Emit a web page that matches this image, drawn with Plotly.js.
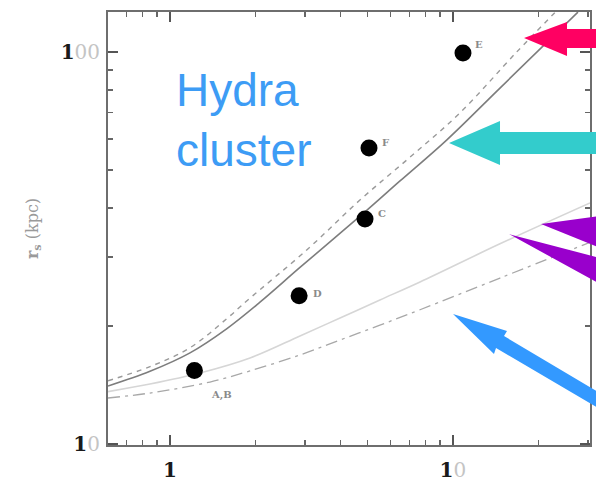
<!DOCTYPE html>
<html>
<head>
<meta charset="utf-8">
<script src="https://cdn.plot.ly/plotly-3.0.1.min.js"></script>
<style>
  html, body { margin: 0; padding: 0; background: #fff; }
  #chart { width: 596px; height: 483px; }
</style>
</head>
<body>
<div id="chart"></div>
<script>
// Cluster members: mass-like abscissa vs scale radius r_s (kpc)
const pointNames = ['A,B', 'D', 'C', 'F', 'E'];
const pointX = [1.22, 2.86, 4.89, 5.05, 10.85];
const pointY = [15.4, 23.9, 37.5, 56.9, 99.4];

// Model relations
const dashedX = [0.604, 0.85, 1.177, 1.59, 1.871, 3.05, 4.69, 7.05, 10.58, 16.8, 22.9];
const dashedY = [14.5, 15.75, 17.6, 20.9, 23.2, 31.3, 41.9, 53.9, 69.9, 100, 126];

const solidX = [0.604, 0.85, 1.177, 1.59, 2.08, 2.88, 4.89, 6.50, 9.52, 14.66, 27.65];
const solidY = [14.06, 15.33, 17.08, 19.7, 23.0, 28.2, 39.1, 46.88, 59.7, 80.9, 126.4];

const lightX = [0.604, 0.85, 1.276, 1.918, 2.88, 3.99, 5.52, 7.65, 14.66, 30.5];
const lightY = [13.6, 14.22, 15.17, 16.57, 18.86, 20.96, 23.3, 25.9, 32.4, 41.2];

const dashDotX = [0.604, 0.85, 1.385, 1.918, 2.88, 3.99, 5.52, 7.65, 14.66, 30.5];
const dashDotY = [13.1, 13.49, 14.39, 15.36, 16.87, 18.42, 20.1, 22.0, 26.5, 32.7];

// Tick labels
const xTickVals = [1, 10];
const xTickText = ['1', '10'];
const yTickVals = [10, 100];
const yTickText = ['10', '100'];

// Label style: first digit dark and bold, the rest pale
function styledTick(t) {
  let s = '<span style="color:#1a1a1a"><b>' + t.charAt(0) + '</b></span>';
  if (t.length > 1) s += '<span style="color:#c4c4c4">' + t.slice(1) + '</span>';
  return s;
}

const W = 596, H = 483;
const M = { l: 108, r: 6, t: 12, b: 38 };
const PW = W - M.l - M.r, PH = H - M.t - M.b;
function px(x) { return ((x - M.l) / PW).toFixed(4); }
function py(y) { return ((H - M.b - y) / PH).toFixed(4); }
function polygon(pts) {
  return 'M' + pts.map(p => px(p[0]) + ',' + py(p[1])).join(' L') + ' Z';
}
function arrowShape(pts, color) {
  return { type: 'path', xref: 'paper', yref: 'paper', path: polygon(pts),
           fillcolor: color, line: { width: 0 }, layer: 'above' };
}

const curve = { shape: 'spline', smoothing: 1.0 };
const traces = [
  { x: dashedX, y: dashedY, mode: 'lines', line: Object.assign({ color: '#9a9a9a', width: 1.4, dash: '5px,5px' }, curve), hoverinfo: 'skip' },
  { x: solidX, y: solidY, mode: 'lines', line: Object.assign({ color: '#7d7d7d', width: 1.6 }, curve), hoverinfo: 'skip' },
  { x: lightX, y: lightY, mode: 'lines', line: Object.assign({ color: '#d6d6d6', width: 1.6 }, curve), hoverinfo: 'skip' },
  { x: dashDotX, y: dashDotY, mode: 'lines', line: Object.assign({ color: '#a8a8a8', width: 1.3, dash: '12px,5px,3px,5px' }, curve), hoverinfo: 'skip' },
  { x: pointX, y: pointY, mode: 'markers', marker: { color: '#000', size: 17 }, hoverinfo: 'skip' }
];

const labelShift = { 'A,B': [27, -25], 'D': [18, 2], 'C': [17, 5], 'F': [17, 5], 'E': [16, 9] };
const annotations = pointNames.map((n, i) => ({
  x: Math.log10(pointX[i]), y: Math.log10(pointY[i]), xref: 'x', yref: 'y',
  text: '<b>' + n + '</b>', showarrow: false,
  xshift: labelShift[n][0], yshift: labelShift[n][1],
  font: { family: 'DejaVu Serif', size: 10, color: '#8a8a8a' }
}));
annotations.push({
  xref: 'paper', yref: 'paper', x: px(174), y: py(62), xanchor: 'left', yanchor: 'top',
  align: 'left', showarrow: false, text: 'Hydra<br>cluster',
  font: { family: 'Liberation Sans, Arial, sans-serif', size: 46, color: '#3d9cf5' }
});

const shapes = [
  arrowShape([[524, 38], [567, 22], [567, 29], [600, 29], [600, 48], [567, 48], [567, 56]], '#ff0062'),
  arrowShape([[449, 143], [500, 121], [500, 132], [600, 132], [600, 154], [500, 154], [500, 165]], '#33cccc'),
  arrowShape([[541, 224], [600, 216], [600, 248]], '#9900cc'),
  arrowShape([[509, 234], [512, 235], [600, 258], [600, 284]], '#9900cc'),
  arrowShape([[453, 314], [507, 331], [504, 336], [600, 393], [600, 409], [496, 348], [494, 354]], '#3399ff')
];

const axisCommon = {
  type: 'log', showgrid: false, zeroline: false,
  showline: true, linecolor: '#6e6e6e', linewidth: 2, mirror: 'ticks',
  ticks: 'inside', ticklen: 10, tickwidth: 1.5, tickcolor: '#555',
  tickmode: 'array',
  tickfont: { family: 'DejaVu Serif', size: 20, color: '#c4c4c4' }
};

const layout = {
  width: W, height: H, margin: M,
  paper_bgcolor: '#fff', plot_bgcolor: '#fff', showlegend: false,
  xaxis: Object.assign({}, axisCommon, {
    range: [Math.log10(0.604), Math.log10(30.5)],
    tickvals: xTickVals, ticktext: xTickText.map(styledTick),
    minor: { ticks: 'inside', ticklen: 5, tickwidth: 1.2, tickcolor: '#666', tickmode: 'array',
             tickvals: [0.7, 0.8, 0.9, 2, 3, 4, 5, 6, 7, 8, 9, 20, 30] },
    ticklabelstandoff: 6
  }),
  yaxis: Object.assign({}, axisCommon, {
    range: [0.9974, 2.102],
    tickvals: yTickVals, ticktext: yTickText.map(styledTick),
    minor: { ticks: 'inside', ticklen: 5, tickwidth: 1.2, tickcolor: '#666', tickmode: 'array',
             tickvals: [20, 30, 40, 50, 60, 70, 80, 90] },
    ticklabelstandoff: 2,
    title: { text: '<b>r<sub>s</sub></b> (kpc)', standoff: 18,
             font: { family: 'DejaVu Serif', size: 16, color: '#9a9a9a' } }
  }),
  annotations: annotations,
  shapes: shapes
};

Plotly.newPlot('chart', traces, layout, { staticPlot: true, displayModeBar: false });
</script>
</body>
</html>
